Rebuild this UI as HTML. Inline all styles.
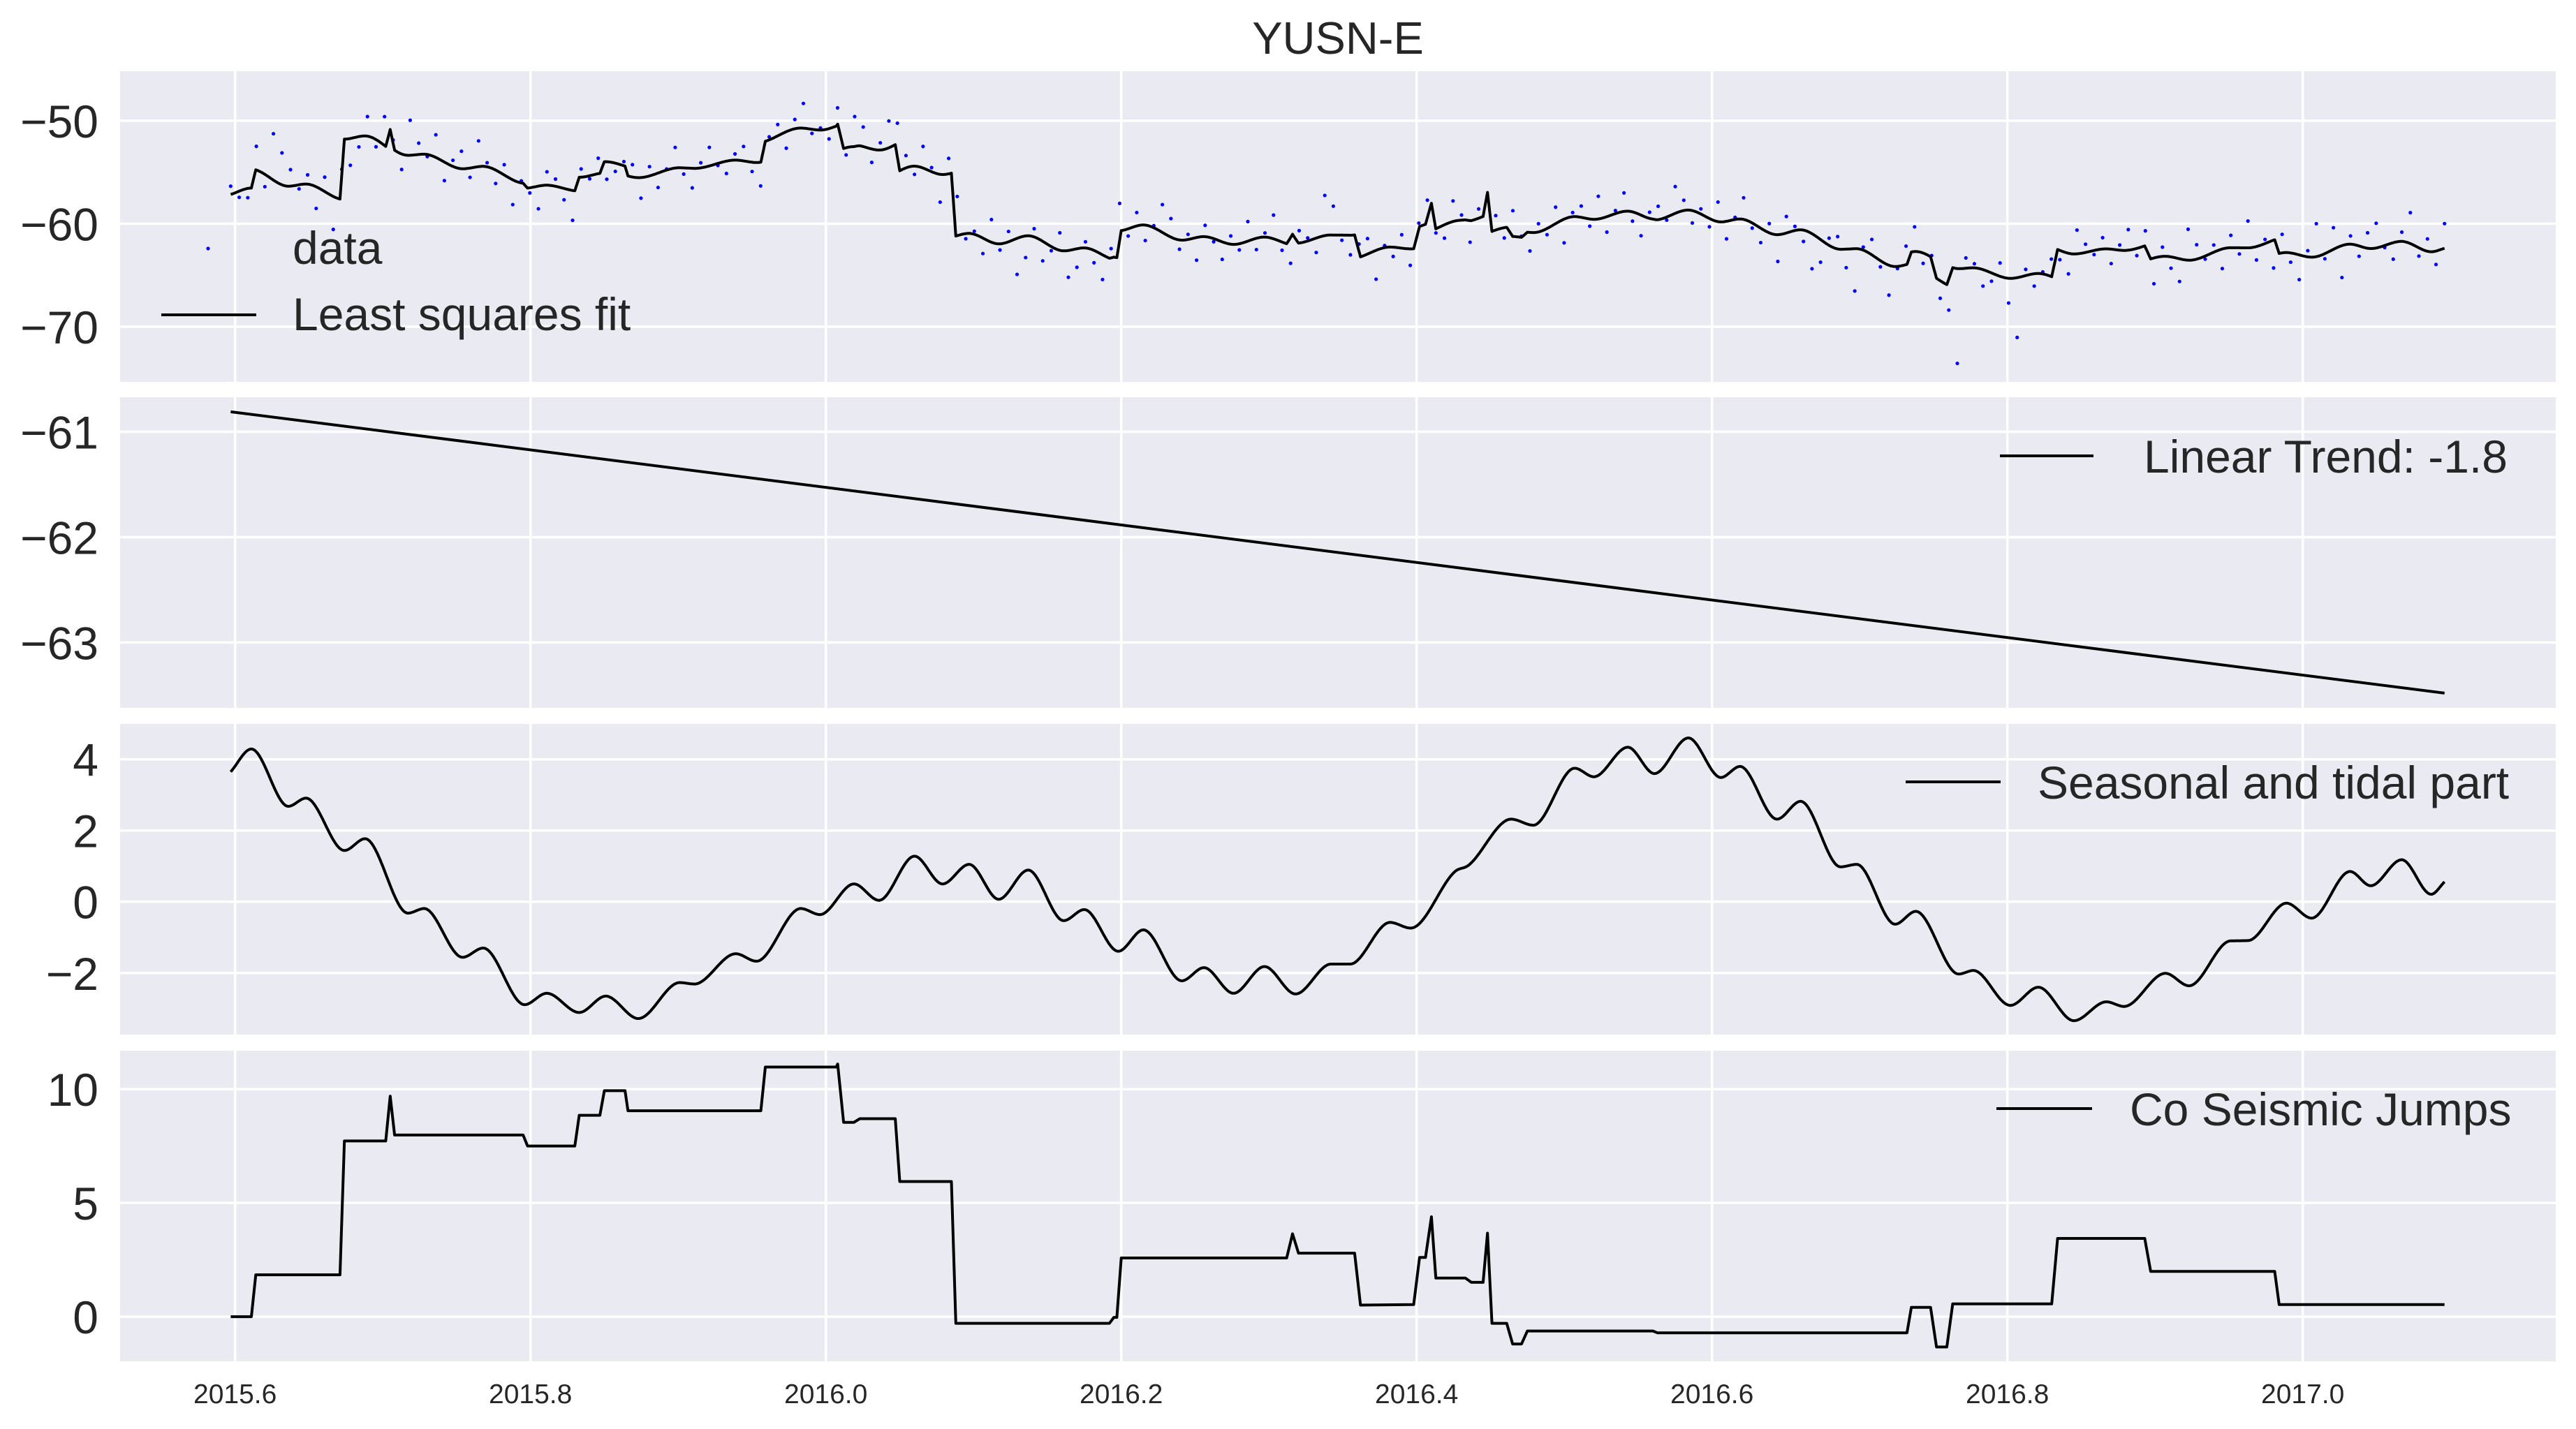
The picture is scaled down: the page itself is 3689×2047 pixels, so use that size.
<!DOCTYPE html>
<html>
<head>
<meta charset="utf-8">
<style>
html,body{margin:0;padding:0;background:#fff;}
svg{display:block;font-family:"Liberation Sans",Arial,sans-serif;}
</style>
</head>
<body>
<svg id="fig" width="3689" height="2047" viewBox="0 0 3689 2047" xmlns="http://www.w3.org/2000/svg">
<rect width="3689" height="2047" fill="#ffffff"/>
<text x="1916" y="77" font-size="65" fill="#262626" text-anchor="middle">YUSN-E</text>
</svg>
<script>
// ---------- data ----------
const xTicks = [2015.6, 2015.8, 2016.0, 2016.2, 2016.4, 2016.6, 2016.8, 2017.0];
const xTickLabels = ["2015.6","2015.8","2016.0","2016.2","2016.4","2016.6","2016.8","2017.0"];
const p1Ticks = [-50, -60, -70];
const p2Ticks = [-61, -62, -63];
const p3Ticks = [4, 2, 0, -2];
const p4Ticks = [10, 5, 0];
const tStart = 2015.597;
const tEnd = 2017.096;
const trendStartVal = -60.81;
const trendEndVal = -63.48;
const seasT = [2015.597,2015.611,2015.636,2015.648,2015.674,2015.688,2015.717,2015.728,2015.754,2015.768,2015.796,2015.811,2015.833,2015.851,2015.873,2015.901,2015.911,2015.939,2015.953,2015.983,2015.996,2016.019,2016.036,2016.060,2016.079,2016.097,2016.117,2016.137,2016.161,2016.175,2016.198,2016.215,2016.241,2016.256,2016.276,2016.297,2016.318,2016.342,2016.355,2016.382,2016.396,2016.426,2016.435,2016.464,2016.479,2016.507,2016.520,2016.543,2016.561,2016.584,2016.606,2016.619,2016.644,2016.660,2016.687,2016.698,2016.724,2016.738,2016.767,2016.777,2016.802,2016.821,2016.845,2016.867,2016.879,2016.907,2016.923,2016.951,2016.963,2016.989,2017.006,2017.032,2017.046,2017.067,2017.087,2017.096];
const seasV = [3.65,4.29,2.68,2.91,1.44,1.77,-0.32,-0.19,-1.56,-1.30,-2.89,-2.57,-3.11,-2.65,-3.28,-2.27,-2.31,-1.46,-1.67,-0.19,-0.36,0.50,0.04,1.28,0.50,1.05,0.07,0.89,-0.53,-0.22,-1.39,-0.79,-2.22,-1.85,-2.57,-1.82,-2.59,-1.75,-1.75,-0.58,-0.74,0.85,1.02,2.32,2.15,3.75,3.51,4.34,3.60,4.60,3.49,3.80,2.32,2.82,0.98,1.05,-0.63,-0.27,-2.03,-1.93,-2.91,-2.40,-3.34,-2.81,-2.94,-2.01,-2.36,-1.10,-1.09,-0.04,-0.46,0.85,0.45,1.18,0.21,0.56];
const jumpT = [2015.597,2015.611,2015.614,2015.671,2015.674,2015.702,2015.705,2015.708,2015.795,2015.798,2015.830,2015.833,2015.847,2015.850,2015.864,2015.866,2015.956,2015.959,2016.007,2016.008,2016.012,2016.019,2016.023,2016.047,2016.050,2016.085,2016.088,2016.192,2016.195,2016.197,2016.200,2016.312,2016.316,2016.320,2016.358,2016.362,2016.398,2016.402,2016.406,2016.410,2016.413,2016.433,2016.437,2016.445,2016.448,2016.451,2016.461,2016.465,2016.471,2016.475,2016.560,2016.563,2016.732,2016.735,2016.748,2016.752,2016.759,2016.763,2016.830,2016.834,2016.893,2016.897,2016.981,2016.984,2017.096];
const jumpV = [0,0,1.84,1.84,7.72,7.72,9.69,7.98,7.98,7.50,7.50,8.85,8.85,9.93,9.93,9.05,9.05,10.97,10.97,11.10,8.54,8.54,8.70,8.70,5.94,5.94,-0.29,-0.29,-0.03,-0.03,2.58,2.58,3.64,2.79,2.79,0.51,0.53,2.60,2.60,4.39,1.70,1.70,1.51,1.51,3.67,-0.29,-0.29,-1.20,-1.20,-0.63,-0.63,-0.71,-0.71,0.41,0.41,-1.33,-1.33,0.56,0.56,3.44,3.44,1.99,1.99,0.53,0.53];
const residuals = [
0.8,-0.6,-0.9,2.3,-1.2,4.5,3.1,1.6,-0.4,0.9,-2.1,1.4,-3.2,0.5,-2.6,-1.0,1.9,-0.7,2.8,0.3,
-1.5,3.4,1.1,-0.2,2.2,-1.8,0.6,1.7,-0.9,2.5,0.4,-1.3,1.0,-2.4,0.2,-0.5,-2.2,1.3,0.7,-1.1,
-2.9,0.8,-0.3,1.5,-1.7,-0.8,0.4,1.2,-2.0,0.9,-1.4,0.1,2.0,-0.6,-1.9,0.5,1.8,-0.2,-1.2,0.6,
1.4,-0.9,-2.3,0.3,1.1,-1.6,0.9,2.4,-0.4,0.2,-1.0,1.6,-0.7,2.9,1.9,-1.3,0.7,2.6,3.3,1.2,
-0.8,2.1,0.4,-2.7,1.5,3.8,-0.5,0.3,-1.5,2.2,-0.6,1.0,-3.5,-2.1,0.8,-1.9,-0.4,1.7,-2.6,-1.8,
0.6,-1.2,-2.4,0.9,3.6,-0.7,1.3,-1.5,0.2,2.7,1.8,-0.9,0.5,-2.2,1.1,-0.3,-1.7,0.8,-0.6,1.9,
-1.1,0.4,2.3,-0.8,-2.5,1.2,0.3,-1.4,3.9,2.8,-0.5,-1.9,0.7,1.5,-2.8,0.2,-0.9,1.3,-1.6,0.6,
1.7,-0.4,-1.3,2.0,0.5,-2.1,0.9,-0.2,1.4,-1.0,2.5,0.1,-1.8,0.8,-0.6,1.6,-2.3,0.4,1.1,-0.7,
2.2,-1.5,0.3,1.8,-0.9,-2.0,0.6,1.3,-0.3,2.6,1.0,-1.2,0.5,-0.8,1.9,-1.7,0.2,2.1,-0.5,-1.4,
0.9,-2.6,1.6,0.4,-1.1,-3.4,-2.2,0.7,1.2,-1.8,-4.1,0.3,1.5,-0.6,-2.9,-0.2,1.8,2.4,-1.0,0.5,
-1.7,-3.0,-9.2,1.0,0.4,-1.6,-0.8,1.3,-2.4,-5.8,0.6,-1.2,0.2,1.7,-0.9,-2.0,2.3,0.8,-0.4,1.1,
-1.4,0.5,2.0,-0.7,1.6,-2.5,0.9,-1.1,-2.2,3.0,1.4,-0.3,0.7,-1.9,1.2,-0.6,2.6,-1.3,0.4,-2.7,
1.8,-0.9,-2.4,0.6,3.2,-0.5,2.1,-3.1,0.8,-1.0,1.5,2.4,-0.2,-1.6,0.9,3.0,-0.8,1.2,-1.3,2.4
];

// ---------- layout ----------
const NS = "http://www.w3.org/2000/svg";
const svg = document.getElementById('fig');
const plotL = 172, plotR = 3660, panelH = 445;
const panels = [
  {top:102, yMin:-75.35, yMax:-45.2, ticks:p1Ticks, name:'data-panel'},
  {top:569, yMin:-63.62, yMax:-60.672, ticks:p2Ticks, name:'trend-panel'},
  {top:1037, yMin:-3.73, yMax:4.994, ticks:p3Ticks, name:'seasonal-panel'},
  {top:1505, yMin:-1.96, yMax:11.69, ticks:p4Ticks, name:'jumps-panel'}
];
function xs(t){ return 336.7 + (t - 2015.6) * 2115; }
function ys(p, v){ return p.top + (p.yMax - v) / (p.yMax - p.yMin) * panelH; }
function mk(tag, attrs, parent){
  const e = document.createElementNS(NS, tag);
  for (const k in attrs) e.setAttribute(k, attrs[k]);
  (parent || svg).appendChild(e);
  return e;
}

// ---------- interpolators ----------
function monotone(xa, ya){
  const n = xa.length, d = [], m = [];
  for (let i=0;i<n-1;i++) d.push((ya[i+1]-ya[i])/(xa[i+1]-xa[i]));
  m[0]=d[0]; m[n-1]=d[n-2];
  for (let i=1;i<n-1;i++) m[i] = (d[i-1]*d[i] <= 0) ? 0 : (d[i-1]+d[i])/2;
  for (let i=0;i<n-1;i++){
    if (d[i]===0){ m[i]=0; m[i+1]=0; continue; }
    const a=m[i]/d[i], b=m[i+1]/d[i], s=a*a+b*b;
    if (s>9){ const tau=3/Math.sqrt(s); m[i]=tau*a*d[i]; m[i+1]=tau*b*d[i]; }
  }
  return function(t){
    if (t<=xa[0]) return ya[0];
    if (t>=xa[n-1]) return ya[n-1];
    let i=0; while (i<n-2 && t>xa[i+1]) i++;
    const h=xa[i+1]-xa[i], u=(t-xa[i])/h;
    const h00=2*u*u*u-3*u*u+1, h10=u*u*u-2*u*u+u, h01=-2*u*u*u+3*u*u, h11=u*u*u-u*u;
    return h00*ya[i]+h10*h*m[i]+h01*ya[i+1]+h11*h*m[i+1];
  };
}
function linear(xa, ya){
  return function(t){
    if (t<=xa[0]) return ya[0];
    if (t>=xa[xa.length-1]) return ya[ya.length-1];
    let i=0; while (i<xa.length-2 && t>xa[i+1]) i++;
    const u=(t-xa[i])/(xa[i+1]-xa[i]);
    return ya[i]+u*(ya[i+1]-ya[i]);
  };
}
const seasonal = monotone(seasT, seasV);
const jumps = linear(jumpT, jumpV);
function trend(t){ return trendStartVal + (t - tStart)/(tEnd - tStart)*(trendEndVal - trendStartVal); }
function fit(t){ return trend(t) + seasonal(t) + jumps(t); }

const samples = [];
for (let i=0;i<=3000;i++) samples.push(tStart + i*(tEnd-tStart)/3000);
jumpT.forEach(t=>samples.push(t));
samples.sort((a,b)=>a-b);

// ---------- panels ----------
panels.forEach((p, pi)=>{
  const g = mk('g', {});
  
  
  const bg = mk('rect', {x:plotL, y:p.top, width:plotR-plotL, height:panelH, fill:'#EAEAF2'}, g);
  
  
  xTicks.forEach(t=>{
    const l = mk('line', {x1:xs(t), x2:xs(t), y1:p.top, y2:p.top+panelH, stroke:'#fff', 'stroke-width':3.5}, g);
    
    
  });
  p.ticks.forEach(v=>{
    const y = ys(p, v);
    const l = mk('line', {x1:plotL, x2:plotR, y1:y, y2:y, stroke:'#fff', 'stroke-width':3.5}, g);
    
    
    const tx = mk('text', {x:141, y:y+24, 'font-size':66, fill:'#262626', 'text-anchor':'end'}, g);
    
    
    tx.textContent = (v<0 ? '\u2212' + Math.abs(v) : String(v));
  });
});

// x tick labels
xTicks.forEach((t,i)=>{
  const tx = mk('text', {x:xs(t), y:2010, 'font-size':39, fill:'#262626', 'text-anchor':'middle'});
  
  
  tx.textContent = xTickLabels[i];
});

function pathFor(p, fn){
  let d = '';
  samples.forEach((t,i)=>{ d += (i?'L':'M') + xs(t).toFixed(1) + ',' + ys(p, fn(t)).toFixed(1); });
  return d;
}

// panel 1: data dots + fit
const P1 = panels[0];
const dots = mk('g', {fill:'#0000ff'});


residuals.forEach((r,i)=>{
  const t = tStart + i*(tEnd-tStart)/(residuals.length-1);
  const c = mk('circle', {cx:xs(t), cy:ys(P1, fit(t)+r), r:2.6}, dots);
  
  
});
const fitLine = mk('path', {d:pathFor(P1, fit), fill:'none', stroke:'#000', 'stroke-width':4, 'stroke-linejoin':'round'});



// panel 2: trend
const P2 = panels[1];
const trendLine = mk('line', {x1:xs(tStart), y1:ys(P2, trendStartVal), x2:xs(tEnd), y2:ys(P2, trendEndVal), stroke:'#000', 'stroke-width':4});



// panel 3: seasonal
const P3 = panels[2];
const seasLine = mk('path', {d:pathFor(P3, seasonal), fill:'none', stroke:'#000', 'stroke-width':4, 'stroke-linejoin':'round'});



// panel 4: jumps
const P4 = panels[3];
let jd = '';
jumpT.forEach((t,i)=>{ jd += (i?'L':'M') + xs(t).toFixed(1) + ',' + ys(P4, jumpV[i]).toFixed(1); });
const jumpLine = mk('path', {d:jd, fill:'none', stroke:'#000', 'stroke-width':4, 'stroke-linejoin':'round'});



// ---------- legends ----------
const lg1 = mk('g', {});


mk('circle', {cx:298, cy:356, r:2.6, fill:'#0000ff'}, lg1);
const t1 = mk('text', {x:419, y:378, 'font-size':66, fill:'#262626'}, lg1);
t1.textContent = 'data';
const lg1b = mk('g', {});


mk('line', {x1:231, x2:367, y1:451, y2:451, stroke:'#000', 'stroke-width':4}, lg1b);
const t1b = mk('text', {x:419, y:473, 'font-size':66, fill:'#262626'}, lg1b);
t1b.textContent = 'Least squares fit';

const lg2 = mk('g', {});


mk('line', {x1:2864, x2:2998, y1:653, y2:653, stroke:'#000', 'stroke-width':4}, lg2);
const t2 = mk('text', {x:3070, y:677, 'font-size':66, fill:'#262626'}, lg2);
t2.textContent = 'Linear Trend: -1.8';

const lg3 = mk('g', {});


mk('line', {x1:2729, x2:2865, y1:1120, y2:1120, stroke:'#000', 'stroke-width':4}, lg3);
const t3 = mk('text', {x:2918, y:1144, 'font-size':66, fill:'#262626'}, lg3);
t3.textContent = 'Seasonal and tidal part';

const lg4 = mk('g', {});


mk('line', {x1:2859, x2:2996, y1:1588, y2:1588, stroke:'#000', 'stroke-width':4}, lg4);
const t4 = mk('text', {x:3050, y:1612, 'font-size':66, fill:'#262626'}, lg4);
t4.textContent = 'Co Seismic Jumps';
</script>
</body>
</html>
